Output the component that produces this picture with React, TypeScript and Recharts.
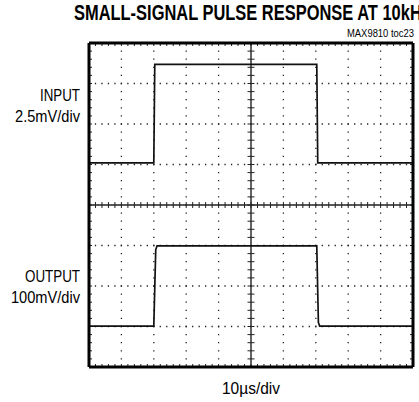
import React from "react";
import { LineChart, Line, XAxis, YAxis, ReferenceLine } from "recharts";

// Scope trace, in divisions (x: 0..10, y: 0..8 from bottom)
const inputX = [0, 2.0, 2.03, 7.03, 7.06, 10];
const inputY = [5.04, 5.04, 7.47, 7.47, 5.04, 5.04];
const outputX = [0, 2.0, 2.06, 2.1, 7.03, 7.08, 7.12, 10];
const outputY = [1.01, 1.01, 2.9, 2.99, 2.99, 1.1, 1.01, 1.01];

const xMajor = [1, 2, 3, 4, 6, 7, 8, 9];
const yMajor = [1, 2, 3, 5, 6, 7];

const title = "SMALL-SIGNAL PULSE RESPONSE AT 10kHz";
const tocLabel = "MAX9810 toc23";
const inputLabel = ["INPUT", "2.5mV/div"];
const outputLabel = ["OUTPUT", "100mV/div"];
const xLabel = "10\u00B5s/div";

const W = 419;
const H = 402;
const M = { top: 43, right: 6, bottom: 35, left: 89 };
const PW = W - M.left - M.right; // 324
const PH = H - M.top - M.bottom; // 324
const DX = PW / 10;
const DY = PH / 8;

const inputData = inputX.map((x, i) => ({ x, v: inputY[i] }));
const outputData = outputX.map((x, i) => ({ x, v: outputY[i] }));

// minor tick positions (5 per division)
const xMinor: number[] = [];
for (let i = 1; i < 50; i++) xMinor.push(i / 5);
const yMinor: number[] = [];
for (let i = 1; i < 40; i++) yMinor.push(i / 5);

const font = "'Liberation Sans Narrow', 'Liberation Sans', Arial, sans-serif";

function Txt(props: { x: number; y: number; len: number; size: number; anchor?: string; bold?: boolean; children: string }) {
  return (
    <text
      x={props.x}
      y={props.y}
      textAnchor={props.anchor || "start"}
      fontFamily={font}
      fontWeight={props.bold ? "bold" : "normal"}
      fontSize={props.size}
      textLength={props.len}
      lengthAdjust="spacingAndGlyphs"
      fill="#000"
    >
      {props.children}
    </text>
  );
}

export default function App() {
  const tk = 3 / DY;
  const tkx = 3.5 / DX;
  const edgeY = 3 / DY;
  const edgeX = 3 / DX;
  return (
    <div style={{ position: "absolute", left: 0, top: 0, width: W, height: H, background: "#fff" }}>
      <LineChart width={W} height={H} margin={M}>
        <XAxis type="number" dataKey="x" domain={[0, 10]} hide allowDataOverflow />
        <YAxis type="number" domain={[0, 8]} hide allowDataOverflow />
        {yMajor.map((y) => (
          <ReferenceLine
            key={"hy" + y}
            y={y}
            stroke="#222"
            strokeWidth={1.3}
            strokeDasharray={`1.3 ${DX / 5 - 1.3}`}
            strokeDashoffset={0.65}
          />
        ))}
        {xMajor.map((x) => (
          <ReferenceLine
            key={"vx" + x}
            x={x}
            stroke="#222"
            strokeWidth={1.3}
            strokeDasharray={`1.3 ${DY / 5 - 1.3}`}
            strokeDashoffset={0.65}
          />
        ))}
        <ReferenceLine y={4} stroke="#222" strokeWidth={1.6} />
        <ReferenceLine x={5} stroke="#222" strokeWidth={1.4} />
        {xMinor.map((x) => (
          <ReferenceLine key={"cx" + x} segment={[{ x, y: 4 - tk }, { x, y: 4 + tk }]} stroke="#222" strokeWidth={1} />
        ))}
        {yMinor.map((y) => (
          <ReferenceLine key={"cy" + y} segment={[{ x: 5 - tkx, y }, { x: 5 + tkx, y }]} stroke="#222" strokeWidth={1} />
        ))}
        {xMinor.map((x) => (
          <ReferenceLine key={"tx" + x} segment={[{ x, y: 8 }, { x, y: 8 - edgeY }]} stroke="#222" strokeWidth={1} />
        ))}
        {xMinor.map((x) => (
          <ReferenceLine key={"bx" + x} segment={[{ x, y: 0 }, { x, y: edgeY }]} stroke="#222" strokeWidth={1} />
        ))}
        {yMinor.map((y) => (
          <ReferenceLine key={"ly" + y} segment={[{ x: 0, y }, { x: edgeX, y }]} stroke="#222" strokeWidth={1} />
        ))}
        {yMinor.map((y) => (
          <ReferenceLine key={"ry" + y} segment={[{ x: 10, y }, { x: 10 - edgeX, y }]} stroke="#222" strokeWidth={1} />
        ))}
        <Line data={inputData} dataKey="v" type="linear" stroke="#111" strokeWidth={1.7} dot={false} isAnimationActive={false} />
        <Line data={outputData} dataKey="v" type="linear" stroke="#111" strokeWidth={1.7} dot={false} isAnimationActive={false} />
        <ReferenceLine x={0} stroke="#000" strokeWidth={3} />
        <ReferenceLine x={10} stroke="#000" strokeWidth={3} />
        <ReferenceLine y={0} stroke="#000" strokeWidth={3} />
        <ReferenceLine y={8} stroke="#000" strokeWidth={3} />
      </LineChart>
      <svg width={W} height={H} style={{ position: "absolute", left: 0, top: 0, pointerEvents: "none" }}>
        <Txt x={74} y={20} len={356} size={22} bold>{title}</Txt>
        <Txt x={414} y={37} len={67} size={11} anchor="end">{tocLabel}</Txt>
        <Txt x={80} y={101} len={40} size={17} anchor="end">{inputLabel[0]}</Txt>
        <Txt x={80} y={122} len={65} size={17} anchor="end">{inputLabel[1]}</Txt>
        <Txt x={80} y={282} len={55} size={17} anchor="end">{outputLabel[0]}</Txt>
        <Txt x={80} y={303} len={69} size={17} anchor="end">{outputLabel[1]}</Txt>
        <Txt x={251} y={394} len={58} size={17} anchor="middle">{xLabel}</Txt>
      </svg>
    </div>
  );
}
